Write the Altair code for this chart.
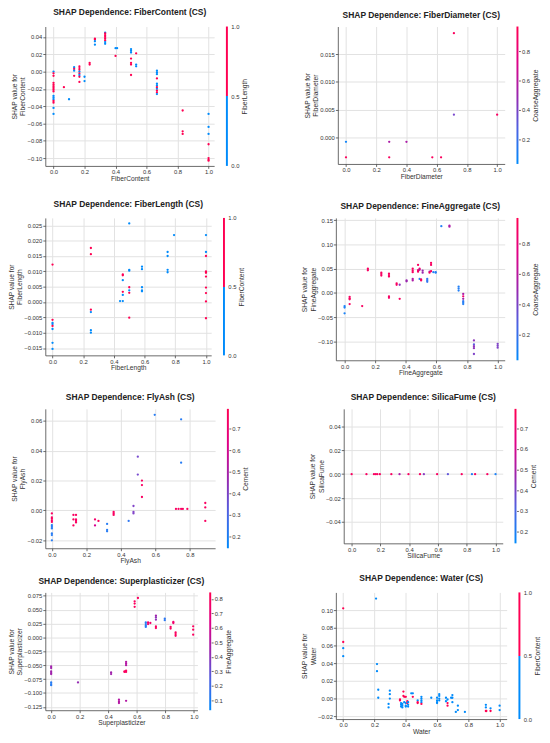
import altair as alt
import pandas as pd

# ---------------- data (feature value, SHAP value, interaction feature value) -------------
fiber_content = [
    (0, 0.000, 0), (0, -0.002, 1), (0, -0.005, 1), (0, -0.013, 1), (0, -0.015, 1), (0, -0.017, 1),
    (0, -0.019, 1), (0, -0.021, 1), (0, -0.023, 1), (0, -0.028, 0), (0, -0.030, 0), (0, -0.032, 0),
    (0, -0.034, 1), (0, -0.036, 1), (0, -0.042, 0), (0, -0.049, 0),
    (0.067, -0.018, 1), (0.1, -0.032, 0),
    (0.133, 0.005, 0), (0.133, 0.003, 1), (0.133, 0.001, 0), (0.133, -0.005, 1),
    (0.167, 0.006, 1), (0.167, 0.004, 1), (0.167, 0.002, 1), (0.167, 0.000, 0), (0.167, -0.002, 1),
    (0.167, -0.004, 0), (0.167, -0.006, 1), (0.167, -0.012, 1),
    (0.2, -0.006, 0), (0.2, -0.011, 0), (0.233, 0.010, 1), (0.233, 0.008, 1),
    (0.267, 0.038, 1), (0.267, 0.037, 1), (0.267, 0.035, 0), (0.267, 0.031, 0),
    (0.333, 0.045, 0), (0.333, 0.044, 1), (0.333, 0.042, 1), (0.333, 0.040, 1), (0.333, 0.038, 1),
    (0.333, 0.036, 1), (0.333, 0.034, 0), (0.333, 0.032, 0),
    (0.4, 0.027, 0), (0.4, 0.018, 1), (0.41, 0.027, 0),
    (0.5, 0.026, 0), (0.5, 0.024, 0), (0.5, 0.022, 0), (0.5, 0.015, 1), (0.5, 0.010, 1), (0.5, 0.008, 1),
    (0.5, -0.004, 1), (0.533, 0.021, 1), (0.533, 0.008, 0), (0.533, 0.006, 0),
    (0.667, 0.001, 0), (0.667, -0.001, 0), (0.667, -0.003, 0), (0.667, -0.008, 1), (0.667, -0.014, 0),
    (0.667, -0.016, 0), (0.667, -0.018, 1), (0.667, -0.020, 0), (0.667, -0.022, 1), (0.667, -0.024, 1),
    (0.667, -0.026, 0),
    (0.833, -0.045, 1), (0.833, -0.069, 1), (0.833, -0.072, 1),
    (1.0, -0.049, 0), (1.0, -0.064, 0), (1.0, -0.072, 0), (1.0, -0.084, 1), (1.0, -0.100, 1),
    (1.0, -0.102, 1), (1.0, -0.103, 1),
]
fiber_diameter = [
    (0.0, -0.0008, 0.06), (0.0, -0.0036, 0.92), (0.286, -0.0008, 0.55), (0.286, -0.0036, 0.92),
    (0.4, -0.0008, 0.55), (0.571, -0.0036, 0.92), (0.629, -0.0036, 0.92), (0.714, 0.0188, 0.92),
    (0.714, 0.0041, 0.38), (1.0, 0.0041, 0.9),
]
fiber_length = [
    (0, 0.0122, 1), (0, -0.0058, 1), (0, -0.0068, 0), (0, -0.0072, 0), (0, -0.0078, 1), (0, -0.0088, 0),
    (0, -0.0133, 0), (0, -0.0153, 0),
    (0.25, 0.0176, 1), (0.25, 0.0156, 1), (0.25, -0.0025, 1), (0.25, -0.0033, 0), (0.25, -0.0092, 0),
    (0.25, -0.0100, 0),
    (0.44, 0.0003, 0), (0.458, 0.0090, 1), (0.458, 0.0087, 1), (0.458, 0.0071, 0), (0.458, 0.0033, 1),
    (0.458, 0.0023, 0), (0.458, 0.0003, 0),
    (0.5, 0.0256, 0), (0.5, 0.0105, 0), (0.5, 0.0102, 0), (0.5, 0.0048, 1), (0.5, 0.0038, 0),
    (0.5, 0.0030, 1), (0.5, -0.0051, 1),
    (0.583, 0.0115, 0), (0.583, 0.0107, 0), (0.583, 0.0048, 0), (0.583, 0.0038, 0), (0.583, 0.0035, 0),
    (0.75, 0.0163, 0), (0.75, 0.0150, 0), (0.75, 0.0105, 0), (0.75, 0.0097, 0), (0.792, 0.0218, 0),
    (1.0, 0.0218, 0), (1.0, 0.0163, 0), (1.0, 0.0150, 1), (1.0, 0.0100, 1), (1.0, 0.0097, 1),
    (1.0, 0.0095, 1), (1.0, 0.0083, 1), (1.0, 0.0047, 1), (1.0, 0.0029, 1), (1.0, 0.0002, 1),
    (1.0, -0.0053, 1),
]
fine_aggregate = [
    (0.0, -0.027, 0.08), (0.0, -0.030, 0.08), (0.0, -0.042, 0.08),
    (0.033, -0.008, 0.9), (0.033, -0.011, 0.9), (0.033, -0.013, 0.9), (0.033, -0.023, 0.9),
    (0.115, -0.027, 0.9), (0.152, 0.050, 0.9), (0.152, 0.047, 0.9),
    (0.24, 0.042, 0.9), (0.24, 0.039, 0.9), (0.24, 0.036, 0.9),
    (0.29, 0.040, 0.9), (0.29, 0.037, 0.9), (0.29, 0.034, 0.9), (0.29, -0.007, 0.9), (0.29, -0.010, 0.88),
    (0.34, 0.020, 0.9), (0.34, 0.017, 0.9), (0.36, 0.017, 0.45), (0.36, -0.012, 0.9),
    (0.405, 0.026, 0.5), (0.405, 0.024, 0.5),
    (0.445, 0.050, 0.9), (0.445, 0.046, 0.9), (0.445, 0.043, 0.9), (0.445, 0.029, 0.55), (0.445, 0.026, 0.55),
    (0.48, 0.058, 0.9), (0.48, 0.047, 0.9), (0.48, 0.044, 0.9),
    (0.49, 0.050, 0.9), (0.49, 0.048, 0.6), (0.49, 0.029, 0.1),
    (0.50, 0.028, 0.9), (0.50, 0.026, 0.9), (0.51, 0.046, 0.5), (0.51, 0.042, 0.5),
    (0.54, 0.029, 0.15), (0.54, 0.026, 0.15), (0.54, 0.023, 0.15),
    (0.555, 0.044, 0.55), (0.555, 0.042, 0.9),
    (0.565, 0.062, 0.9), (0.565, 0.058, 0.9), (0.565, 0.045, 0.9),
    (0.58, 0.043, 0.1), (0.595, 0.043, 0.1), (0.595, 0.042, 0.1),
    (0.632, 0.138, 0.1), (0.685, 0.139, 0.55), (0.685, 0.137, 0.55),
    (0.745, 0.013, 0.1), (0.745, 0.009, 0.1), (0.745, 0.005, 0.1),
    (0.775, -0.002, 0.55), (0.775, -0.007, 0.85), (0.775, -0.012, 0.5), (0.775, -0.017, 0.15),
    (0.775, -0.020, 0.1), (0.775, -0.023, 0.1),
    (0.845, -0.098, 0.45), (0.845, -0.106, 0.3), (0.845, -0.110, 0.45), (0.845, -0.114, 0.45),
    (0.845, -0.126, 0.4),
    (1.0, -0.105, 0.4), (1.0, -0.109, 0.4), (1.0, -0.113, 0.4),
]
fly_ash = [
    (0, -0.002, 0.75), (0, -0.0046, 0.75), (0, -0.0055, 0.75), (0, -0.0066, 0.75), (0, -0.0077, 0.75),
    (0, -0.0099, 0.2), (0, -0.011, 0.2), (0, -0.012, 0.2), (0, -0.0154, 0.2), (0, -0.0165, 0.2),
    (0, -0.020, 0.2),
    (0.125, -0.003, 0.75), (0.125, -0.006, 0.75), (0.125, -0.010, 0.75),
    (0.14, -0.003, 0.75), (0.14, -0.006, 0.75), (0.14, -0.007, 0.75), (0.14, -0.008, 0.75),
    (0.25, -0.006, 0.72), (0.25, -0.010, 0.6), (0.27, -0.007, 0.75),
    (0.32, -0.009, 0.2), (0.32, -0.013, 0.2), (0.32, -0.014, 0.2),
    (0.358, -0.001, 0.75), (0.358, -0.002, 0.75), (0.358, -0.003, 0.75),
    (0.445, -0.007, 0.22),
    (0.473, 0.003, 0.4), (0.473, -0.001, 0.4), (0.473, -0.002, 0.4),
    (0.498, 0.036, 0.38), (0.498, 0.024, 0.38),
    (0.522, 0.020, 0.75), (0.522, 0.017, 0.75), (0.522, 0.009, 0.75),
    (0.596, 0.064, 0.2),
    (0.719, 0.001, 0.75), (0.734, 0.001, 0.75), (0.749, 0.001, 0.75), (0.759, 0.001, 0.75),
    (0.785, 0.001, 0.75),
    (0.749, 0.061, 0.2), (0.749, 0.032, 0.2),
    (0.889, 0.005, 0.75), (0.889, 0.002, 0.75), (0.889, -0.007, 0.75),
]
silica_fume = [
    (0.0, 0, 0.75), (0.103, 0, 0.75), (0.155, 0, 0.75), (0.167, 0, 0.75), (0.178, 0, 0.75),
    (0.196, 0, 0.75), (0.276, 0, 0.75), (0.333, 0, 0.5), (0.395, 0, 0.75), (0.475, 0, 0.75),
    (0.502, 0, 0.42), (0.594, 0, 0.75), (0.669, 0, 0.34), (0.765, 0, 0.75), (0.836, 0, 0.2),
    (0.858, 0, 0.75), (0.943, 0, 0.75), (1.0, 0, 0.18),
]
superplasticizer = [
    (0, -0.052, 0.45), (0, -0.055, 0.45), (0, -0.061, 0.45), (0, -0.064, 0.45), (0, -0.066, 0.45),
    (0, -0.081, 0.1), (0, -0.084, 0.1), (0, -0.086, 0.1),
    (0.188, -0.081, 0.42), (0.42, -0.063, 0.45), (0.42, -0.066, 0.45),
    (0.475, -0.112, 0.5), (0.475, -0.115, 0.5), (0.475, -0.118, 0.5),
    (0.514, -0.062, 0.8), (0.514, -0.061, 0.8),
    (0.525, -0.044, 0.5), (0.525, -0.047, 0.5), (0.525, -0.050, 0.5), (0.525, -0.060, 0.8),
    (0.525, -0.062, 0.8), (0.525, -0.114, 0.5),
    (0.585, 0.065, 0.8), (0.585, 0.061, 0.8), (0.585, 0.055, 0.8), (0.608, 0.071, 0.8),
    (0.663, 0.027, 0.1), (0.663, 0.024, 0.1), (0.663, 0.021, 0.1), (0.663, 0.019, 0.1),
    (0.679, 0.027, 0.75), (0.679, 0.024, 0.75), (0.695, 0.026, 0.75),
    (0.734, 0.039, 0.45), (0.734, 0.036, 0.4), (0.734, 0.032, 0.4), (0.734, 0.020, 0.8),
    (0.734, 0.017, 0.8),
    (0.796, 0.034, 0.12), (0.796, 0.031, 0.12),
    (0.837, 0.019, 0.8), (0.837, 0.016, 0.8), (0.856, 0.026, 0.75), (0.856, 0.028, 0.75),
    (0.872, 0.009, 0.8), (0.872, 0.006, 0.8), (0.872, 0.003, 0.8),
    (0.995, 0.020, 0.8), (0.995, 0.014, 0.8), (0.995, 0.005, 0.8),
]
water = [
    (0, 0.102, 1), (0, 0.064, 1), (0, 0.057, 0), (0, 0.048, 0),
    (0.21, 0.113, 0), (0.216, 0.039, 0), (0.216, 0.031, 0), (0.224, 0.010, 0), (0.224, 0.001, 0),
    (0.29, -0.006, 0), (0.29, -0.010, 0), (0.298, 0.009, 0), (0.298, 0.005, 0), (0.298, 0.000, 0),
    (0.363, -0.001, 1), (0.363, -0.002, 1), (0.37, -0.005, 0), (0.37, -0.007, 0), (0.37, -0.009, 0),
    (0.378, -0.006, 0), (0.378, -0.008, 0), (0.378, -0.010, 0),
    (0.385, 0.008, 1), (0.385, 0.003, 1), (0.39, 0.002, 1), (0.39, -0.004, 0),
    (0.40, -0.005, 0), (0.40, -0.008, 0), (0.40, -0.009, 0), (0.40, 0.002, 1),
    (0.41, -0.003, 1), (0.41, -0.005, 1), (0.415, -0.004, 0), (0.415, -0.007, 0), (0.415, -0.009, 0),
    (0.435, 0.006, 0), (0.445, 0.006, 0), (0.445, 0.002, 1),
    (0.476, -0.002, 0), (0.476, -0.004, 1), (0.476, -0.005, 1),
    (0.50, 0.002, 0), (0.50, 0.000, 0), (0.50, -0.002, 0), (0.50, -0.004, 0), (0.50, -0.006, 1),
    (0.563, 0.001, 0),
    (0.60, 0.001, 0), (0.60, -0.002, 0), (0.60, -0.004, 0), (0.60, -0.005, 0),
    (0.614, 0.005, 0), (0.614, 0.003, 0), (0.614, 0.000, 0), (0.614, -0.002, 0),
    (0.657, 0.001, 0), (0.657, -0.003, 0),
    (0.667, -0.001, 0), (0.667, -0.005, 1), (0.667, -0.008, 1),
    (0.69, 0.001, 0), (0.698, 0.004, 0), (0.698, 0.001, 0), (0.698, -0.004, 0),
    (0.72, -0.015, 0), (0.733, -0.008, 0), (0.733, -0.013, 0), (0.778, -0.015, 0),
    (0.912, -0.007, 0), (0.912, -0.010, 0), (0.912, -0.014, 1), (0.915, -0.014, 1),
    (0.942, -0.011, 0), (0.942, -0.014, 1),
    (1.0, -0.008, 0), (1.0, -0.013, 0),
]

# axis tick labels
x_ticks = [0.0, 0.2, 0.4, 0.6, 0.8, 1.0]
x_ticks_flyash = [0.0, 0.2, 0.4, 0.6, 0.8]
y_ticks_fc = [-0.10, -0.08, -0.06, -0.04, -0.02, 0.0, 0.02, 0.04]
y_ticks_fd = [0.0, 0.005, 0.010, 0.015]
y_ticks_fl = [-0.015, -0.010, -0.005, 0.0, 0.005, 0.010, 0.015, 0.020, 0.025]
y_ticks_fa = [-0.10, -0.05, 0.0, 0.05, 0.10, 0.15]
y_ticks_fly = [-0.02, 0.0, 0.02, 0.04, 0.06]
y_ticks_sf = [-0.04, -0.02, 0.0, 0.02, 0.04]
y_ticks_sp = [-0.125, -0.100, -0.075, -0.050, -0.025, 0.0, 0.025, 0.050, 0.075]
y_ticks_w = [-0.02, 0.0, 0.02, 0.04, 0.06, 0.08, 0.10]
c_ticks_binary = [0.0, 0.5, 1.0]
c_ticks_coarse = [0.2, 0.4, 0.6, 0.8]
c_ticks_cement = [0.2, 0.3, 0.4, 0.5, 0.6, 0.7]
c_ticks_fine = [0.1, 0.2, 0.3, 0.4, 0.5, 0.6, 0.7, 0.8]

# ---------------- styling -------------
FONT = "Liberation Sans"
BLUE, RED = "#008bfb", "#ff0052"
RED_BLUE = ["#008afb", "#4b63e3", "#9a25ae", "#e00086", "#ff0051"]
STOPS = [0, 0.25, 0.5, 0.75, 1]

AX = dict(labelFont=FONT, labelFontSize=6, labelColor="#333", titleFont=FONT,
          titleFontSize=6.8, titleFontWeight="normal", titleColor="#333",
          tickColor="#444", tickWidth=0.8, labelFlush=False, labelOverlap=False)


def panel(rows, feat, cfeat, xdom, ydom, xvals, yvals, yfmt, w, h, cdom=None, cvals=None):
    df = pd.DataFrame(rows, columns=["x", "y", "c"])
    if cdom is None:
        lo, hi = 0.0, 1.0
        cscale = alt.Scale(type="quantize", domain=[0, 1], range=[BLUE, RED])
        cvals = c_ticks_binary
        stops = [alt.GradientStop(color=BLUE, offset=0), alt.GradientStop(color=BLUE, offset=0.5),
                 alt.GradientStop(color=RED, offset=0.5), alt.GradientStop(color=RED, offset=1)]
        ctick, cpad = 0, 3
    else:
        lo, hi = cdom
        cscale = alt.Scale(domain=[lo + (hi - lo) * k for k in STOPS], range=RED_BLUE, clamp=True)
        stops = [alt.GradientStop(color=c, offset=o) for c, o in zip(RED_BLUE, STOPS)]
        ctick, cpad = 2, 1

    grid = dict(domainColor="#444", domainWidth=0.8, tickSize=2.5, gridColor="#e1e1e1",
                gridWidth=1)
    points = alt.Chart(df).mark_circle(size=5.5, opacity=1).encode(
        x=alt.X("x:Q", title=feat,
                scale=alt.Scale(domain=xdom, nice=False, zero=False),
                axis=alt.Axis(values=xvals, format=".1f", titlePadding=0.5, labelPadding=0.5,
                              **grid, **AX)),
        y=alt.Y("y:Q", title=["SHAP value for", feat],
                scale=alt.Scale(domain=ydom, nice=False, zero=False),
                axis=alt.Axis(values=yvals, format=yfmt, titlePadding=1, labelPadding=1,
                              **grid, **AX)),
        color=alt.Color("c:Q", scale=cscale, legend=None),
    )

    cbar_df = pd.DataFrame({"lo": [lo], "hi": [hi]})
    cbar = alt.Chart(cbar_df).mark_rect(
        color=alt.LinearGradient(gradient="linear", stops=stops, x1=0, x2=0, y1=1, y2=0)
    ).encode(
        x=alt.value(w + 12), x2=alt.value(w + 14),
        y=alt.Y("lo:Q", title=cfeat,
                scale=alt.Scale(domain=[lo, hi], nice=False, zero=False),
                axis=alt.Axis(orient="right", offset=14, values=cvals, format=".1f",
                              domain=False, grid=False, tickSize=ctick, labelPadding=cpad,
                              titleAngle=270, titleBaseline="top", titlePadding=3, **AX)),
        y2="hi:Q",
    )

    return alt.layer(points, cbar).resolve_scale(y="independent").properties(
        width=w, height=h,
        title=alt.Title(f"SHAP Dependence: {feat} (CS)", font=FONT, fontSize=8.6,
                        fontWeight="bold", color="#222", offset=7, frame="group",
                        anchor="middle"),
    )


p1 = panel(fiber_content, "FiberContent", "FiberLength", [-0.053, 1.036], [-0.109, 0.052],
           x_ticks, y_ticks_fc, ".2f", 172, 142)
p2 = panel(fiber_diameter, "FiberDiameter", "CoarseAggregate", [-0.054, 1.05], [-0.0048, 0.0200],
           x_ticks, y_ticks_fd, ".3f", 170, 140, cdom=[0.033, 0.967], cvals=c_ticks_coarse)
p3 = panel(fiber_length, "FiberLength", "FiberContent", [-0.047, 1.034], [-0.0174, 0.0274],
           x_ticks, y_ticks_fl, ".3f", 169, 140)
p4 = panel(fine_aggregate, "FineAggregate", "CoarseAggregate", [-0.057, 1.046], [-0.139, 0.155],
           x_ticks, y_ticks_fa, ".2f", 172, 145, cdom=[0.035, 0.965], cvals=c_ticks_coarse)
p5 = panel(fly_ash, "FlyAsh", "Cement", [-0.038, 0.946], [-0.0253, 0.068],
           x_ticks_flyash, y_ticks_fly, ".2f", 173, 142, cdom=[0.144, 0.793], cvals=c_ticks_cement)
p6 = panel(silica_fume, "SilicaFume", "Cement", [-0.055, 1.05], [-0.0578, 0.0545],
           x_ticks, y_ticks_sf, ".2f", 162, 137, cdom=[0.144, 0.793], cvals=c_ticks_cement)
p7 = panel(superplasticizer, "Superplasticizer", "FineAggregate", [-0.041, 1.025], [-0.131, 0.081],
           x_ticks, y_ticks_sp, ".3f", 155, 120, cdom=[0.03, 0.845], cvals=c_ticks_fine)
p8 = panel(water, "Water", "FiberContent", [-0.047, 1.045], [-0.0231, 0.12],
           x_ticks, y_ticks_w, ".2f", 174, 129)


def row(a, b, s):
    return alt.hconcat(a, b, spacing=s).resolve_scale(color="independent")


v12 = alt.vconcat(row(p1, p2, 55), row(p3, p4, 56), spacing=17).resolve_scale(color="independent")
v123 = alt.vconcat(v12, row(p5, p6, 60), spacing=16.5).resolve_scale(color="independent")
chart = alt.vconcat(v123, row(p7, p8, 70), spacing=9.5).resolve_scale(
    color="independent").configure_view(stroke=None).properties(
    padding={"left": 0, "top": -7, "right": 0, "bottom": 0}, background="white"
)

chart.save("out.html", embed_options={"renderer": "svg", "actions": False})
